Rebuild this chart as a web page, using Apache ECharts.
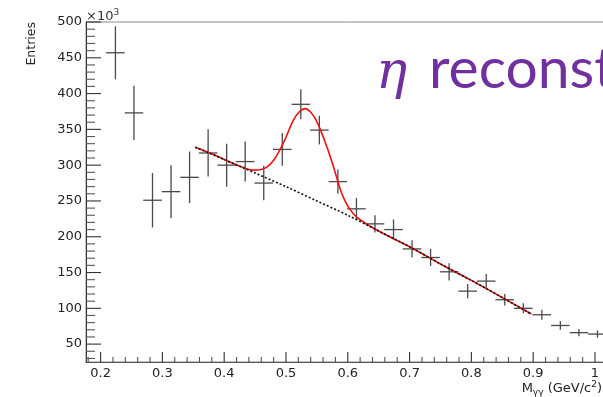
<!DOCTYPE html>
<html><head><meta charset="utf-8">
<script src="https://cdn.jsdelivr.net/npm/echarts@6/dist/echarts.min.js"></script>
<style>html,body{margin:0;padding:0;overflow:hidden;background:#fff;width:603px;height:397px}#c{width:640px;height:397px}</style>
</head><body><div id="c"></div>
<script>
// Histogram bins (M_gg in GeV/c^2), entries (x10^3) and errors (x10^3)
const binCenters = [0.224,0.254,0.284,0.314,0.344,0.374,0.404,0.434,0.464,0.494,0.524,0.554,0.584,0.614,0.644,0.674,0.704,0.734,0.764,0.794,0.824,0.854,0.884,0.914,0.944,0.974,1.004];
const entries    = [457,373,251,263,283,317,300,305,275,322,385,349,277,239,218,210,183,171,151,124,138,112,100,91,76,66,64];
const errors     = [37,38,38,37,36,33,30,28,24,23,21,20,17,15,12,14,12,12,12,10,10,8,7,7,6,5,5];
const binHalfWidth = 0.015;

// Total fit (signal + background)
const fitX = [0.353,0.38,0.41,0.43,0.4475,0.46,0.47,0.48,0.49,0.50,0.512,0.522,0.531,0.54,0.548,0.556,0.566,0.575,0.583,0.59,0.60,0.615,0.65,0.70,0.75,0.80,0.85,0.897];
const fitY = [325,316,304,297,293,294,298,307,321,339,363,375,379,374,364,349,326,303,280,261,243,227,208,186,162,139,115,92];
// Background component
const bgX = [0.353,0.40,0.45,0.50,0.55,0.60,0.65,0.70,0.75,0.80,0.85,0.897];
const bgY = [325,308,289,270,250,230,208,186,162,139,115,92];

// Axis ticks
const xMajorTicks = [0.2,0.3,0.4,0.5,0.6,0.7,0.8,0.9,1.0];
const xMinorTicks = [0.18,0.22,0.24,0.26,0.28,0.32,0.34,0.36,0.38,0.42,0.44,0.46,0.48,0.52,0.54,0.56,0.58,0.62,0.64,0.66,0.68,0.72,0.74,0.76,0.78,0.82,0.84,0.86,0.88,0.92,0.94,0.96,0.98,1.02];
const yMajorTicks = [50,100,150,200,250,300,350,400,450,500];
const yMinorTicks = [30,40,60,70,80,90,110,120,130,140,160,170,180,190,210,220,230,240,260,270,280,290,310,320,330,340,360,370,380,390,410,420,430,440,460,470,480,490];

const X_MIN = 0.1764, X_MAX = 1.025, Y_MIN = 25, Y_MAX = 500;
const FONT = 'DejaVu Sans';
const W = 640, H = 397, PX_LEFT = 86, PX_BOTTOM = 362, PX_TOP = 22, PX_PER_X = 618;

// tick marks drawn inward from the axes, positioned by the axis scales
const tickSeries = (values, dir, len, color) => ({
  type:'custom', xAxisIndex:0, yAxisIndex:0, z:3,
  data: values.map(v => dir === 'x' ? [v, Y_MIN, len] : [X_MIN, v, len]),
  renderItem:(params, api) => {
    const a = api.value(0), b = api.value(1), n = api.value(2);
    const p = api.coord([a, b]);
    const shape = dir === 'x'
      ? {x1:p[0], y1:p[1], x2:p[0], y2:p[1] - n}
      : {x1:p[0], y1:p[1], x2:p[0] + n, y2:p[1]};
    return {type:'group', children:[{type:'line', shape, style:{stroke:color, lineWidth:1.1}}]};
  }
});

const chart = echarts.init(document.getElementById('c'), null, {renderer:'canvas'});
const option = {
  backgroundColor:'#fff',
  animation:false,
  grid:{show:true, borderColor:'#8a8a8a', borderWidth:1, backgroundColor:'transparent',
        left:PX_LEFT, right:W - (PX_LEFT + (X_MAX - X_MIN) * PX_PER_X), top:PX_TOP, bottom:H - PX_BOTTOM, containLabel:false},
  xAxis:{type:'value', min:X_MIN, max:X_MAX, position:'bottom',
     splitLine:{show:false}, axisTick:{show:false},
     axisLine:{show:true, lineStyle:{color:'#555', width:1}},
     axisLabel:{show:true, customValues:xMajorTicks, margin:5, color:'#222', fontFamily:FONT, fontSize:13,
       formatter:v => (Math.abs(v-1) < 1e-9 ? '1' : v.toFixed(1))}},
  yAxis:{type:'value', min:Y_MIN, max:Y_MAX, position:'left',
     splitLine:{show:false}, axisTick:{show:false},
     axisLine:{show:true, lineStyle:{color:'#333', width:1}},
     axisLabel:{show:true, customValues:yMajorTicks, margin:4, color:'#222', fontFamily:FONT, fontSize:13}},
  series:[
    tickSeries(xMinorTicks, 'x', 5, '#555'),
    tickSeries(xMajorTicks, 'x', 10, '#333'),
    tickSeries(yMinorTicks, 'y', 9, '#555'),
    tickSeries(yMajorTicks, 'y', 15, '#333'),
    {type:'custom', xAxisIndex:0, yAxisIndex:0, z:3,
     data: binCenters.map((x,i) => [x, entries[i], errors[i]]),
     renderItem:(params, api) => {
       const x = api.value(0), y = api.value(1), e = api.value(2);
       const l = api.coord([x - binHalfWidth, y]), r = api.coord([x + binHalfWidth, y]);
       const t = api.coord([x, y + e]), b = api.coord([x, y - e]);
       const st = {stroke:'#4a4a4a', lineWidth:1.3};
       return {type:'group', children:[
         {type:'line', shape:{x1:l[0], y1:l[1], x2:r[0], y2:r[1]}, style:st},
         {type:'line', shape:{x1:t[0], y1:t[1], x2:b[0], y2:b[1]}, style:st}
       ]};
     }},
    {type:'line', xAxisIndex:0, yAxisIndex:0, z:4, data: fitX.map((x,i)=>[x, fitY[i]]),
     showSymbol:false, symbol:'none', smooth:0.4, lineStyle:{color:'#f01010', width:1.6}},
    {type:'line', xAxisIndex:0, yAxisIndex:0, z:5, data: bgX.map((x,i)=>[x, bgY[i]]),
     showSymbol:false, symbol:'none', smooth:0.3, lineStyle:{color:'#111', width:1.6, type:[2,2]}}
  ],
  graphic:[
    {type:'text', x:32, y:22, rotation:Math.PI/2, z:10,
     style:{text:'Entries', fontFamily:FONT, fontSize:12.5, fill:'#222', align:'right', verticalAlign:'middle'}},
    {type:'text', x:86, y:17, z:10,
     style:{text:'×10{s|3}', fontFamily:FONT, fontSize:13, fill:'#333', align:'left', verticalAlign:'middle',
       rich:{s:{fontFamily:FONT, fontSize:9, fill:'#333', verticalAlign:'top', padding:[0,0,8,0]}}}},
    {type:'text', x:602, y:389, z:10,
     style:{text:'M{sub|γγ} (GeV/c{sup|2})', fontFamily:FONT, fontSize:13, fill:'#222', align:'right', verticalAlign:'middle',
       rich:{sub:{fontFamily:FONT, fontSize:9, fill:'#222', padding:[8,0,0,0]},
             sup:{fontFamily:FONT, fontSize:9, fill:'#222', padding:[0,0,8,0]}}}},
    {type:'text', x:376, y:74, z:10,
     style:{text:'η', fontFamily:'DejaVu Serif', fontStyle:'italic', fontSize:52, fill:'#7030A0', align:'left', verticalAlign:'middle'}},
    {type:'text', x:429, y:70, z:10,
     style:{text:'reconst', fontFamily:'Lato', fontSize:57, fill:'#7030A0', align:'left', verticalAlign:'middle'}}
  ]
};
chart.setOption(option);
</script></body></html>
